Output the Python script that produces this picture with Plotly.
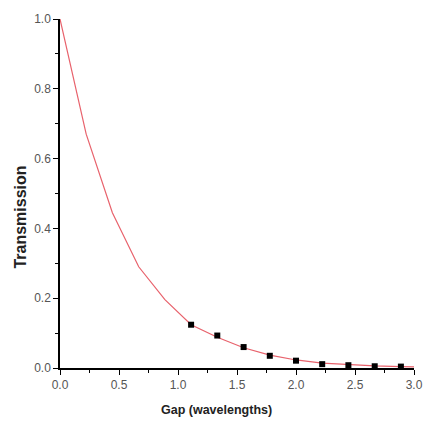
import plotly.graph_objects as go

# Fitted curve
curve_x = [0.0, 0.222, 0.444, 0.667, 0.889, 1.111, 1.333, 1.556, 1.778, 2.0, 2.222, 2.444, 2.667, 2.889, 3.0]
curve_y = [1.0, 0.67, 0.445, 0.29, 0.196, 0.124, 0.088, 0.058, 0.037, 0.023, 0.014, 0.009, 0.006, 0.004, 0.003]

# Measured points (black squares)
pts_x = [1.111, 1.333, 1.556, 1.778, 2.0, 2.222, 2.444, 2.667, 2.889]
pts_y = [0.124, 0.093, 0.060, 0.035, 0.021, 0.011, 0.008, 0.005, 0.004]

x_ticks = [0.0, 0.5, 1.0, 1.5, 2.0, 2.5, 3.0]
y_ticks = [0.0, 0.2, 0.4, 0.6, 0.8, 1.0]

fig = go.Figure()
fig.add_trace(go.Scatter(x=curve_x, y=curve_y, mode="lines",
                         line=dict(color="#e8626c", width=1.2), showlegend=False))
fig.add_trace(go.Scatter(x=pts_x, y=pts_y, mode="markers",
                         marker=dict(symbol="square", size=6, color="black"), showlegend=False))

axis_common = dict(
    showgrid=False, zeroline=False, showline=True, linecolor="black", linewidth=1.5,
    ticks="outside", ticklen=5, tickwidth=1.3, tickcolor="black",
    tickfont=dict(family="Liberation Sans, Arial", size=12, color="#555555"),
    minor=dict(ticks="outside", ticklen=3, tickwidth=1.2, tickcolor="black"),
)

fig.update_xaxes(range=[0, 3.0], tickvals=x_ticks, ticktext=[f"{v:.1f}" for v in x_ticks],
                 minor_dtick=0.25, **axis_common)
fig.update_yaxes(range=[0, 1.0], tickvals=y_ticks, ticktext=[f"{v:.1f}" for v in y_ticks],
                 minor_dtick=0.1, **axis_common)

fig.add_annotation(text="<b>Gap (wavelengths)</b>", xref="paper", yref="paper",
                   x=(219 - 60) / 359, y=0, yshift=-42, showarrow=False,
                   xanchor="center", yanchor="middle",
                   font=dict(family="Liberation Sans, Arial", size=12.5, color="#222222"))
fig.add_annotation(text="<b>Transmission</b>", xref="paper", yref="paper",
                   x=0, xshift=-39, y=(368 - 215) / 355, showarrow=False, textangle=-90,
                   xanchor="center", yanchor="middle",
                   font=dict(family="Liberation Sans, Arial", size=16, color="#222222"))

fig.update_layout(width=435, height=427, margin=dict(l=60, r=16, t=13, b=59),
                  plot_bgcolor="white", paper_bgcolor="white")

fig.write_html("out.html")
